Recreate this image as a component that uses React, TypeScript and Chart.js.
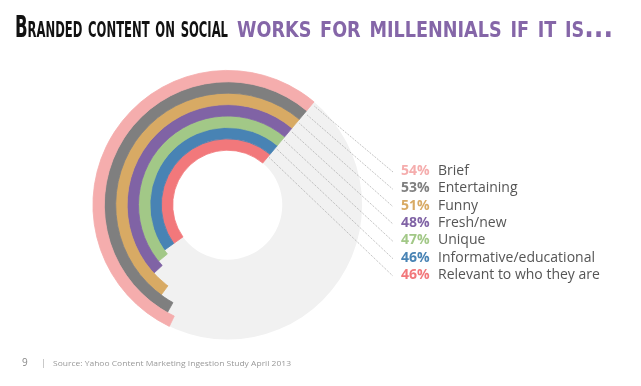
import React, { useEffect, useRef } from "react";
import { Chart, registerables } from "chart.js";

Chart.register(...registerables);

const labels = ["Brief", "Entertaining", "Funny", "Fresh/new", "Unique", "Informative/educational", "Relevant to who they are"];
const values = [54, 53, 51, 48, 47, 46, 46];
const colors = ["#f5adad", "#7f7f7f", "#d8aa64", "#8063a5", "#a2c887", "#4883b4", "#f2787b"];
const END_ANGLE = 40; // degrees clockwise from top where every ring ends
const titleDark = "Branded content on social";
const titlePurple = "works for millennials if it is...";
const pageNumber = "9";
const sourceText = "Source: Yahoo Content Marketing Ingestion Study April 2013";

const bgRingPlugin = {
  id: "bgRing",
  beforeDatasetsDraw(chart: any) {
    const first = chart.getDatasetMeta(0).data[0];
    const last = chart.getDatasetMeta(values.length - 1).data[0];
    if (!first || !last) return;
    const ctx = chart.ctx;
    ctx.save();
    ctx.beginPath();
    ctx.arc(first.x, first.y, first.outerRadius, 0, Math.PI * 2);
    ctx.arc(first.x, first.y, last.innerRadius, 0, Math.PI * 2, true);
    ctx.fillStyle = "#f1f1f1";
    ctx.fill("evenodd");
    ctx.restore();
  },
};

const leaderPlugin = {
  id: "leaders",
  afterDatasetsDraw(chart: any) {
    const ctx = chart.ctx;
    const rowTop = 171;
    const rowGap = 17.35;
    const lineEndX = 393;
    const pctX = 401;
    const labelX = 438;
    ctx.save();
    values.forEach((v, i) => {
      const arc = chart.getDatasetMeta(i).data[0];
      if (!arc) return;
      const ang = arc.endAngle + 0.025;
      const r = arc.outerRadius - 3;
      const sx = arc.x + Math.cos(ang) * r;
      const sy = arc.y + Math.sin(ang) * r;
      const y = rowTop + i * rowGap;
      ctx.beginPath();
      ctx.setLineDash([1, 1.2]);
      ctx.strokeStyle = "#9a9a9a";
      ctx.lineWidth = 0.8;
      ctx.moveTo(sx, sy);
      ctx.lineTo(lineEndX, y + 1);
      ctx.stroke();
      ctx.setLineDash([]);
      ctx.textBaseline = "middle";
      ctx.textAlign = "left";
      ctx.font = "bold 14px 'Open Sans'";
      ctx.fillStyle = colors[i];
      ctx.fillText(v + "%", pctX, y);
      ctx.font = "14px 'Open Sans'";
      ctx.fillStyle = "#555555";
      ctx.fillText(labels[i], labelX, y);
    });
    ctx.restore();
  },
};

export default function App() {
  const canvasRef = useRef<HTMLCanvasElement>(null);

  useEffect(() => {
    if (!canvasRef.current) return;
    const chart = new Chart(canvasRef.current, {
      type: "doughnut",
      data: {
        labels: ["value", "rest"],
        datasets: values.map((v, i) => ({
          label: labels[i],
          data: [v, 100 - v],
          backgroundColor: [colors[i], "rgba(0,0,0,0)"],
          borderColor: [colors[i], "rgba(0,0,0,0)"],
          borderWidth: [0.8, 0],
          rotation: END_ANGLE - v * 3.6,
        })) as any,
      },
      options: {
        responsive: false,
        maintainAspectRatio: false,
        animation: false,
        cutout: "40.7%",
        layout: { padding: { left: 92.5, top: 70, right: 278.5, bottom: 46 } },
        plugins: {
          legend: { display: false },
          tooltip: { enabled: false },
          title: { display: false },
        },
      } as any,
      plugins: [bgRingPlugin, leaderPlugin],
    });
    return () => chart.destroy();
  }, []);

  return (
    <div style={{ position: "fixed", left: 0, top: 0, width: 641, height: 386, background: "#fff", overflow: "hidden" }}>
      <canvas ref={canvasRef} width={641} height={386} style={{ position: "absolute", left: 0, top: 0, width: 641, height: 386 }} />
      <svg width={641} height={386} style={{ position: "absolute", left: 0, top: 0, pointerEvents: "none" }}>
        <text
          x={15}
          y={37}
          textLength={213}
          lengthAdjust="spacingAndGlyphs"
          style={{ fontFamily: "'DejaVu Sans Condensed', 'DejaVu Sans'", fontWeight: "bold", fontSize: 30, fontVariant: "small-caps" }}
          fill="#111111"
        >
          {titleDark}
        </text>
        <text
          x={237}
          y={37}
          textLength={376}
          lengthAdjust="spacingAndGlyphs"
          style={{ fontFamily: "'DejaVu Sans Condensed', 'DejaVu Sans'", fontWeight: "bold", fontSize: 30, fontVariant: "small-caps" }}
          fill="#8566a8"
        >
          {titlePurple}
        </text>
        <text x={22} y={366} style={{ fontFamily: "'Open Sans'", fontSize: 10 }} fill="#8a8a8a">
          {pageNumber}
        </text>
        <text x={41} y={366} style={{ fontFamily: "'Open Sans'", fontSize: 9 }} fill="#aaaaaa">
          |
        </text>
        <text
          x={53}
          y={366}
          textLength={238}
          lengthAdjust="spacingAndGlyphs"
          style={{ fontFamily: "'Open Sans'", fontSize: 8 }}
          fill="#999999"
        >
          {sourceText}
        </text>
      </svg>
    </div>
  );
}
